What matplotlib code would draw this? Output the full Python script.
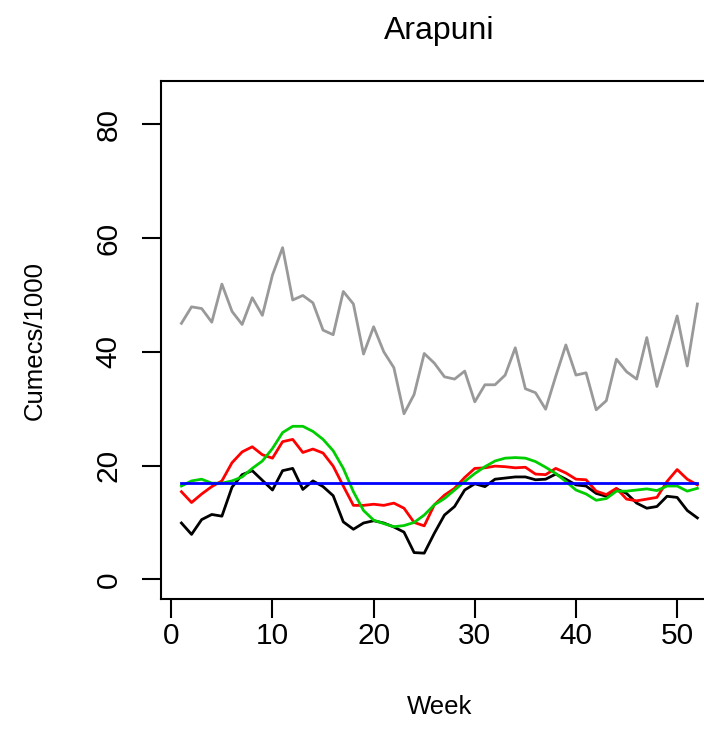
import matplotlib
matplotlib.use("Agg")
import matplotlib.pyplot as plt
import numpy as np

plt.rcParams['font.family'] = ['Liberation Sans', 'DejaVu Sans']

weeks = np.arange(1, 53)

# gray: observed (top series)
gray_flow = [45.0, 47.9, 47.6, 45.2, 51.9, 47.1, 44.8, 49.5, 46.4, 53.5,
             58.3, 49.1, 49.9, 48.6, 43.8, 43.0, 50.6, 48.4, 39.6, 44.4,
             40.0, 37.2, 29.1, 32.5, 39.7, 38.0, 35.6, 35.2, 36.6, 31.2,
             34.2, 34.2, 35.9, 40.7, 33.5, 32.8, 29.9, 35.7, 41.2, 35.9,
             36.3, 29.8, 31.4, 38.7, 36.5, 35.2, 42.5, 33.9, 40.0, 46.3,
             37.5, 48.4]

black_flow = [9.9, 7.9, 10.5, 11.4, 11.1, 16.2, 18.4, 19.1, 17.4, 15.7,
              19.1, 19.5, 15.8, 17.3, 16.3, 14.7, 10.1, 8.8, 9.9, 10.3,
              9.9, 9.2, 8.3, 4.7, 4.6, 8.1, 11.3, 12.8, 15.7, 16.8,
              16.3, 17.6, 17.8, 18.0, 18.0, 17.5, 17.6, 18.5, 17.6, 16.6,
              16.4, 15.1, 14.6, 15.9, 15.1, 13.4, 12.5, 12.8, 14.6, 14.4,
              12.1, 10.8]

red_flow = [15.4, 13.5, 15.0, 16.3, 17.3, 20.5, 22.4, 23.3, 21.9, 21.3,
            24.2, 24.6, 22.3, 22.9, 22.2, 19.9, 16.4, 13.0, 13.0, 13.2,
            13.0, 13.4, 12.5, 10.0, 9.4, 13.1, 14.8, 16.0, 17.9, 19.5,
            19.6, 19.9, 19.8, 19.6, 19.7, 18.5, 18.4, 19.5, 18.7, 17.6,
            17.5, 15.5, 14.9, 16.0, 14.1, 13.8, 14.1, 14.4, 17.2, 19.3,
            17.6, 16.6]

green_flow = [16.4, 17.3, 17.6, 16.9, 16.9, 17.3, 18.0, 19.5, 20.8, 23.0,
              25.8, 26.9, 26.9, 26.0, 24.6, 22.6, 19.5, 15.4, 12.1, 10.4,
              9.8, 9.25, 9.45, 10.0, 11.3, 13.1, 14.2, 15.7, 17.2, 18.6,
              19.8, 20.8, 21.3, 21.4, 21.3, 20.7, 19.7, 18.6, 17.2, 15.7,
              15.0, 13.9, 14.2, 15.5, 15.5, 15.7, 15.9, 15.6, 16.4, 16.4,
              15.5, 16.0]

blue_level = 17.0

xticks = [0, 10, 20, 30, 40, 50]
yticks = [0, 20, 40, 60, 80]

fig = plt.figure(figsize=(7.04, 7.52), dpi=100)
ax = fig.add_axes([0.2284, 0.2039, 0.7915, 0.6884])

ax.plot(weeks, gray_flow, color='#999999', lw=2.0)
ax.plot(weeks, black_flow, color='black', lw=2.0)
ax.plot(weeks, red_flow, color='#FF0000', lw=2.0)
ax.plot(weeks, green_flow, color='#00CD00', lw=2.0)
ax.plot(weeks, [blue_level] * len(weeks), color='#0000FF', lw=2.0)

ax.set_xlim(-1.04, 54.04)
ax.set_ylim(-3.4, 87.6)
ax.set_xticks(xticks)
ax.set_yticks(yticks)
for s in ax.spines.values():
    s.set_linewidth(1.5)
ax.tick_params(axis='both', direction='out', length=13.5, width=1.5,
               labelsize=21.5)
ax.tick_params(axis='x', pad=3)
ax.tick_params(axis='y', pad=14, labelrotation=90)
for lab in ax.get_yticklabels():
    lab.set_va('center')

fig.text(439.4 / 704, 1 - 31 / 752, 'Arapuni', ha='center', va='center', fontsize=23)
fig.text(439.4 / 704, 1 - 707 / 752, 'Week', ha='center', va='center', fontsize=18.5)
fig.text(35 / 704, 1 - 340 / 752, 'Cumecs/1000', ha='center', va='center',
         rotation=90, fontsize=18.5)

fig.savefig('out.png', dpi=100)
